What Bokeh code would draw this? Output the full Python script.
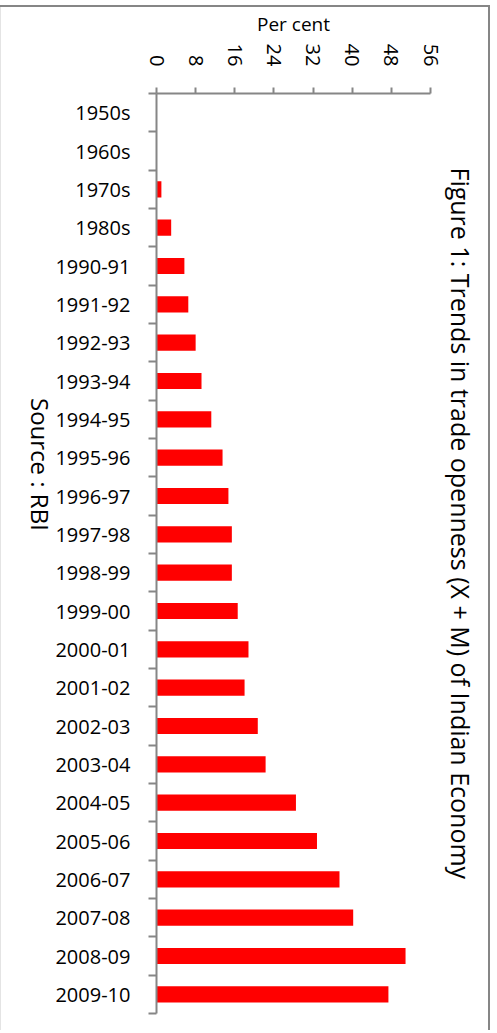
import math
from bokeh.plotting import figure
from bokeh.layouts import row
from bokeh.models import ColumnDataSource, FixedTicker, Range1d, Title, Div
from bokeh.embed import file_html
from bokeh.resources import INLINE

# ---- data ----
categories = ["1950s", "1960s", "1970s", "1980s", "1990-91", "1991-92", "1992-93",
              "1993-94", "1994-95", "1995-96", "1996-97", "1997-98", "1998-99",
              "1999-00", "2000-01", "2001-02", "2002-03", "2003-04", "2004-05",
              "2005-06", "2006-07", "2007-08", "2008-09", "2009-10"]
openness = [0.1, 0.1, 1.0, 3.0, 5.7, 6.5, 8.0, 9.2, 11.2, 13.5, 14.7, 15.4, 15.4,
            16.6, 18.8, 18.0, 20.7, 22.3, 28.5, 32.8, 37.4, 40.2, 50.9, 47.4]
negative_part = [0, 0, 0, 0, 0, 0, 0, 0, 0, 0, 0, 0, 0, 0,
                 -0.3, -0.3, -0.3, -0.3, 0, 0, 0, 0, 0, 0]
x_ticks = [0, 8, 16, 24, 32, 40, 48, 56]
title_text = "Figure 1: Trends in trade openness (X + M) of Indian Economy"
source_text = "Source : RBI"
x_label = "Per cent"

FONT = "Open Sans"
GREY = "#868686"

positions = list(range(len(categories)))
src = ColumnDataSource(dict(y=positions, val=openness, neg=negative_part,
                            zero=[0] * len(categories)))

p = figure(width=438, height=1030,
           x_range=Range1d(x_ticks[0], x_ticks[-1]),
           y_range=Range1d(len(categories) - 0.5, -0.5),
           x_axis_location="above",
           output_backend="svg", toolbar_location=None,
           min_border_left=104, min_border_right=47,
           min_border_top=93, min_border_bottom=17)
p.outline_line_color = None
p.border_fill_color = None
p.background_fill_color = "white"
p.xgrid.visible = False
p.ygrid.visible = False

p.hbar(y="y", left="zero", right="val", height=0.42, source=src,
       fill_color="#FF0000", line_color=None)
p.hbar(y="y", left="neg", right="zero", height=0.42, source=src,
       fill_color="#FF0000", line_color=None)

# top value axis
xa = p.xaxis[0]
xa.ticker = FixedTicker(ticks=x_ticks)
xa.axis_line_color = GREY
xa.axis_line_width = 2
xa.major_tick_line_color = GREY
xa.major_tick_line_width = 2
xa.major_tick_out = 6
xa.major_tick_in = 0
xa.minor_tick_line_color = None
xa.major_label_orientation = -math.pi / 2
xa.major_label_standoff = 21
xa.major_label_text_font = FONT
xa.major_label_text_font_size = "20px"
xa.major_label_text_color = "black"
xa.axis_label = x_label
xa.axis_label_text_font = FONT
xa.axis_label_text_font_size = "19px"
xa.axis_label_text_font_style = "normal"
xa.axis_label_text_color = "black"
xa.axis_label_standoff = 4

# left category axis (ticks between categories)
ya = p.yaxis[0]
ya.ticker = FixedTicker(ticks=positions,
                        minor_ticks=[i - 0.5 for i in range(len(categories) + 1)])
ya.major_label_overrides = {i: c for i, c in zip(positions, categories)}
ya.axis_line_color = GREY
ya.axis_line_width = 2
ya.major_tick_out = 0
ya.major_tick_in = 0
ya.major_tick_line_color = None
ya.minor_tick_line_color = GREY
ya.minor_tick_line_width = 2
ya.minor_tick_out = 8
ya.minor_tick_in = 0
ya.major_label_standoff = 18
ya.major_label_text_font = FONT
ya.major_label_text_font_size = "20px"
ya.major_label_text_color = "black"

# rotated title on the right (reads top to bottom)
p.add_layout(Title(text=title_text, align="left", offset=74,
                   vertical_align="middle", standoff=24,
                   text_font=FONT, text_font_size="25px",
                   text_font_style="normal", text_color="black"), "right")

# source note on the left (reads top to bottom)
src_div = Div(text=('<div style="writing-mode: vertical-rl; margin-left: 27px; '
                    'margin-top: 398px; font-family: \'Open Sans\'; font-size: 24px; '
                    'line-height: 26px; color: black; white-space: nowrap;">'
                    + source_text + '</div>'),
              width=52, height=1030, margin=0)

layout = row(src_div, p)
layout.styles = {
    "background": ("linear-gradient(#868686, #868686) 0px 5px / 490px 2px no-repeat, "
                   "linear-gradient(#868686, #868686) 488px 5px / 2px 1100px no-repeat, "
                   "linear-gradient(#e4e4e4, #e4e4e4) 0px 5px / 1px 1100px no-repeat, white")
}

open("out.html", "w").write(file_html(layout, INLINE))
